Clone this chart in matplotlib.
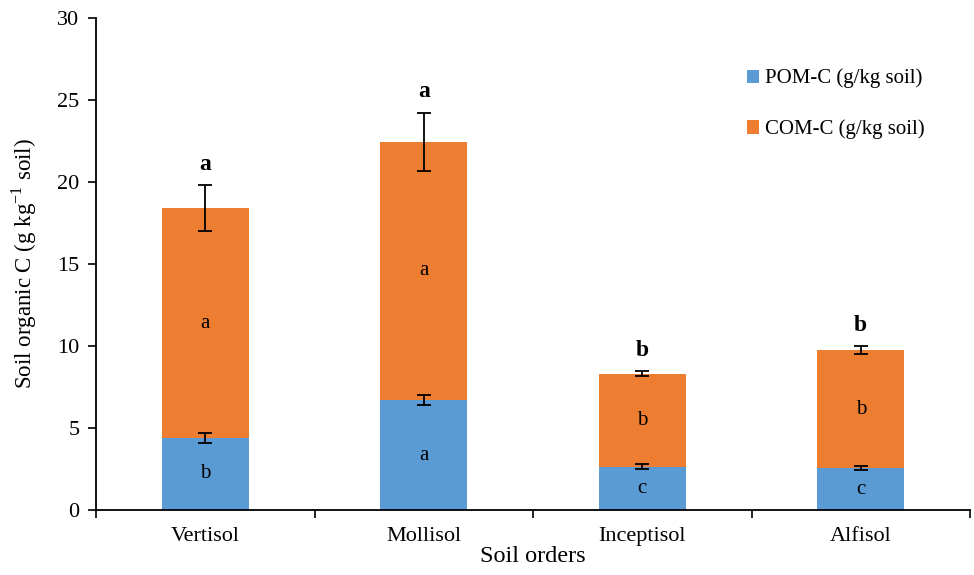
import matplotlib.pyplot as plt
import numpy as np

plt.rcParams['font.family'] = ['Liberation Serif', 'DejaVu Serif']
plt.rcParams['mathtext.fontset'] = 'custom'
plt.rcParams['mathtext.rm'] = 'Liberation Serif'

soils = ['Vertisol', 'Mollisol', 'Inceptisol', 'Alfisol']
pom = [4.4, 6.7, 2.65, 2.55]
pom_err = [0.3, 0.3, 0.15, 0.12]
com = [14.0, 15.75, 5.65, 7.2]
total_err = [1.4, 1.75, 0.15, 0.22]
pom_letters = ['b', 'a', 'c', 'c']
com_letters = ['a', 'a', 'b', 'b']
total_letters = ['a', 'a', 'b', 'b']

blue = '#5b9bd5'
orange = '#ed7d31'

fig = plt.figure(figsize=(9.74, 5.75), dpi=100)
ax = fig.add_axes([96/974, 1 - 510/575, 874/974, 492/575])

x = np.arange(len(soils))
w = 0.4
totals = [p + c for p, c in zip(pom, com)]

ax.bar(x, pom, w, color=blue, label='POM-C (g/kg soil)', zorder=2)
ax.bar(x, com, w, bottom=pom, color=orange, label='COM-C (g/kg soil)', zorder=2)
ax.errorbar(x, pom, yerr=pom_err, fmt='none', ecolor='black', elinewidth=1.3,
            capsize=5, capthick=1.3, zorder=3)
ax.errorbar(x, totals, yerr=total_err, fmt='none', ecolor='black', elinewidth=1.3,
            capsize=5, capthick=1.3, zorder=3)

for i in range(len(soils)):
    ax.text(x[i], pom[i] / 2, pom_letters[i], ha='center', va='center', fontsize=15)
    ax.text(x[i], pom[i] + com[i] / 2, com_letters[i], ha='center', va='center', fontsize=15)
    ax.text(x[i], totals[i] + total_err[i] + 0.65, total_letters[i], ha='center',
            va='bottom', fontsize=17, fontweight='bold')

ax.set_xlim(-0.5, len(soils) - 0.5)
ax.set_ylim(0, 30)
ax.set_yticks(range(0, 31, 5))
ax.set_xticks(x)
ax.set_xticklabels(soils, fontsize=16)
ax.set_xticks(np.arange(-0.5, len(soils)), minor=True)
ax.tick_params(axis='x', which='major', length=0, pad=12)
ax.tick_params(axis='x', which='minor', length=6, width=1.2, direction='out')
ax.tick_params(axis='y', labelsize=16, length=6, width=1.2, direction='out', pad=6)
for s in ['top', 'right']:
    ax.spines[s].set_visible(False)
for s in ['left', 'bottom']:
    ax.spines[s].set_linewidth(1.3)

ax.set_xlabel('Soil orders', fontsize=17.5, labelpad=0)
ax.set_ylabel('Soil organic C (g kg$^{\\mathrm{-1}}$ soil)', fontsize=16.5, labelpad=13)

ax.legend(loc='upper right', bbox_to_anchor=(0.97, 0.935), frameon=False, fontsize=15,
          handlelength=0.6, handleheight=0.6, handletextpad=0.3, labelspacing=1.5)

fig.savefig('out.png', dpi=100)
